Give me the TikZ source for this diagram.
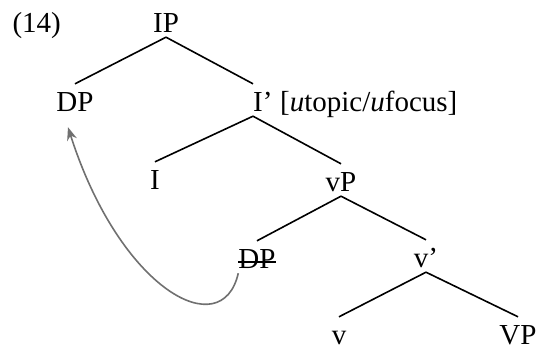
\documentclass[tikz,border=0pt]{standalone}
\usepackage{fontspec}
\setmainfont{Liberation Serif}
\usetikzlibrary{arrows.meta}
\definecolor{movegray}{RGB}{112,112,112}

\begin{document}
\begin{tikzpicture}[
    x=1pt, y=-1pt,
    every node/.style={font=\fontsize{29}{35}\selectfont},
    cat/.style={anchor=base, inner sep=0pt, text height=28pt, text depth=4pt},
    branch/.style={line width=1.6pt},
    move/.style={-{Stealth[length=13pt,width=10pt]}, line width=1.6pt, movegray},
]
\useasboundingbox (0,0) rectangle (538,352);
% example number
\node[anchor=base west] (ex) at (9,33) {(14)};
% the tree
\node[cat] (ip) at (166,33) {IP};
\node[cat] (dp) at (75,112) {DP};
\node[cat, anchor=base west] (ibar) at (253,112) {I’};
\node[anchor=base west, inner sep=0pt] (feat) at (ibar.base east)
      {\ [\textit{u}topic/\textit{u}focus]};
\node[cat] (i) at (155,190) {I};
\node[cat] (vp) at (341,192) {vP};
\node[cat] (dpt) at (257,269) {DP};
\node[cat] (vbar) at (426,268) {v’};
\node[cat] (v) at (339,345) {v};
\node[cat] (vpl) at (518,345) {VP};
% struck-out copy
\draw[line width=1.1pt] ([yshift=7pt]dpt.base west) -- ([yshift=7pt]dpt.base east);
% branches
\draw[branch] (ip.south) -- (dp.north);
\draw[branch] (ip.south) -- (ibar.north west);
\draw[branch] (ibar.south west) -- (i.north);
\draw[branch] (ibar.south west) -- (vp.north);
\draw[branch] (vp.south) -- (dpt.north);
\draw[branch] (vp.south) -- (vbar.north);
\draw[branch] (vbar.south) -- (v.north);
\draw[branch] (vbar.south) -- (vpl.north);
% movement of the subject
\draw[move] (dpt.south west) .. controls (222,345) and (120,290)
      .. ([xshift=-7pt,yshift=-11pt]dp.south);
\end{tikzpicture}
\end{document}
